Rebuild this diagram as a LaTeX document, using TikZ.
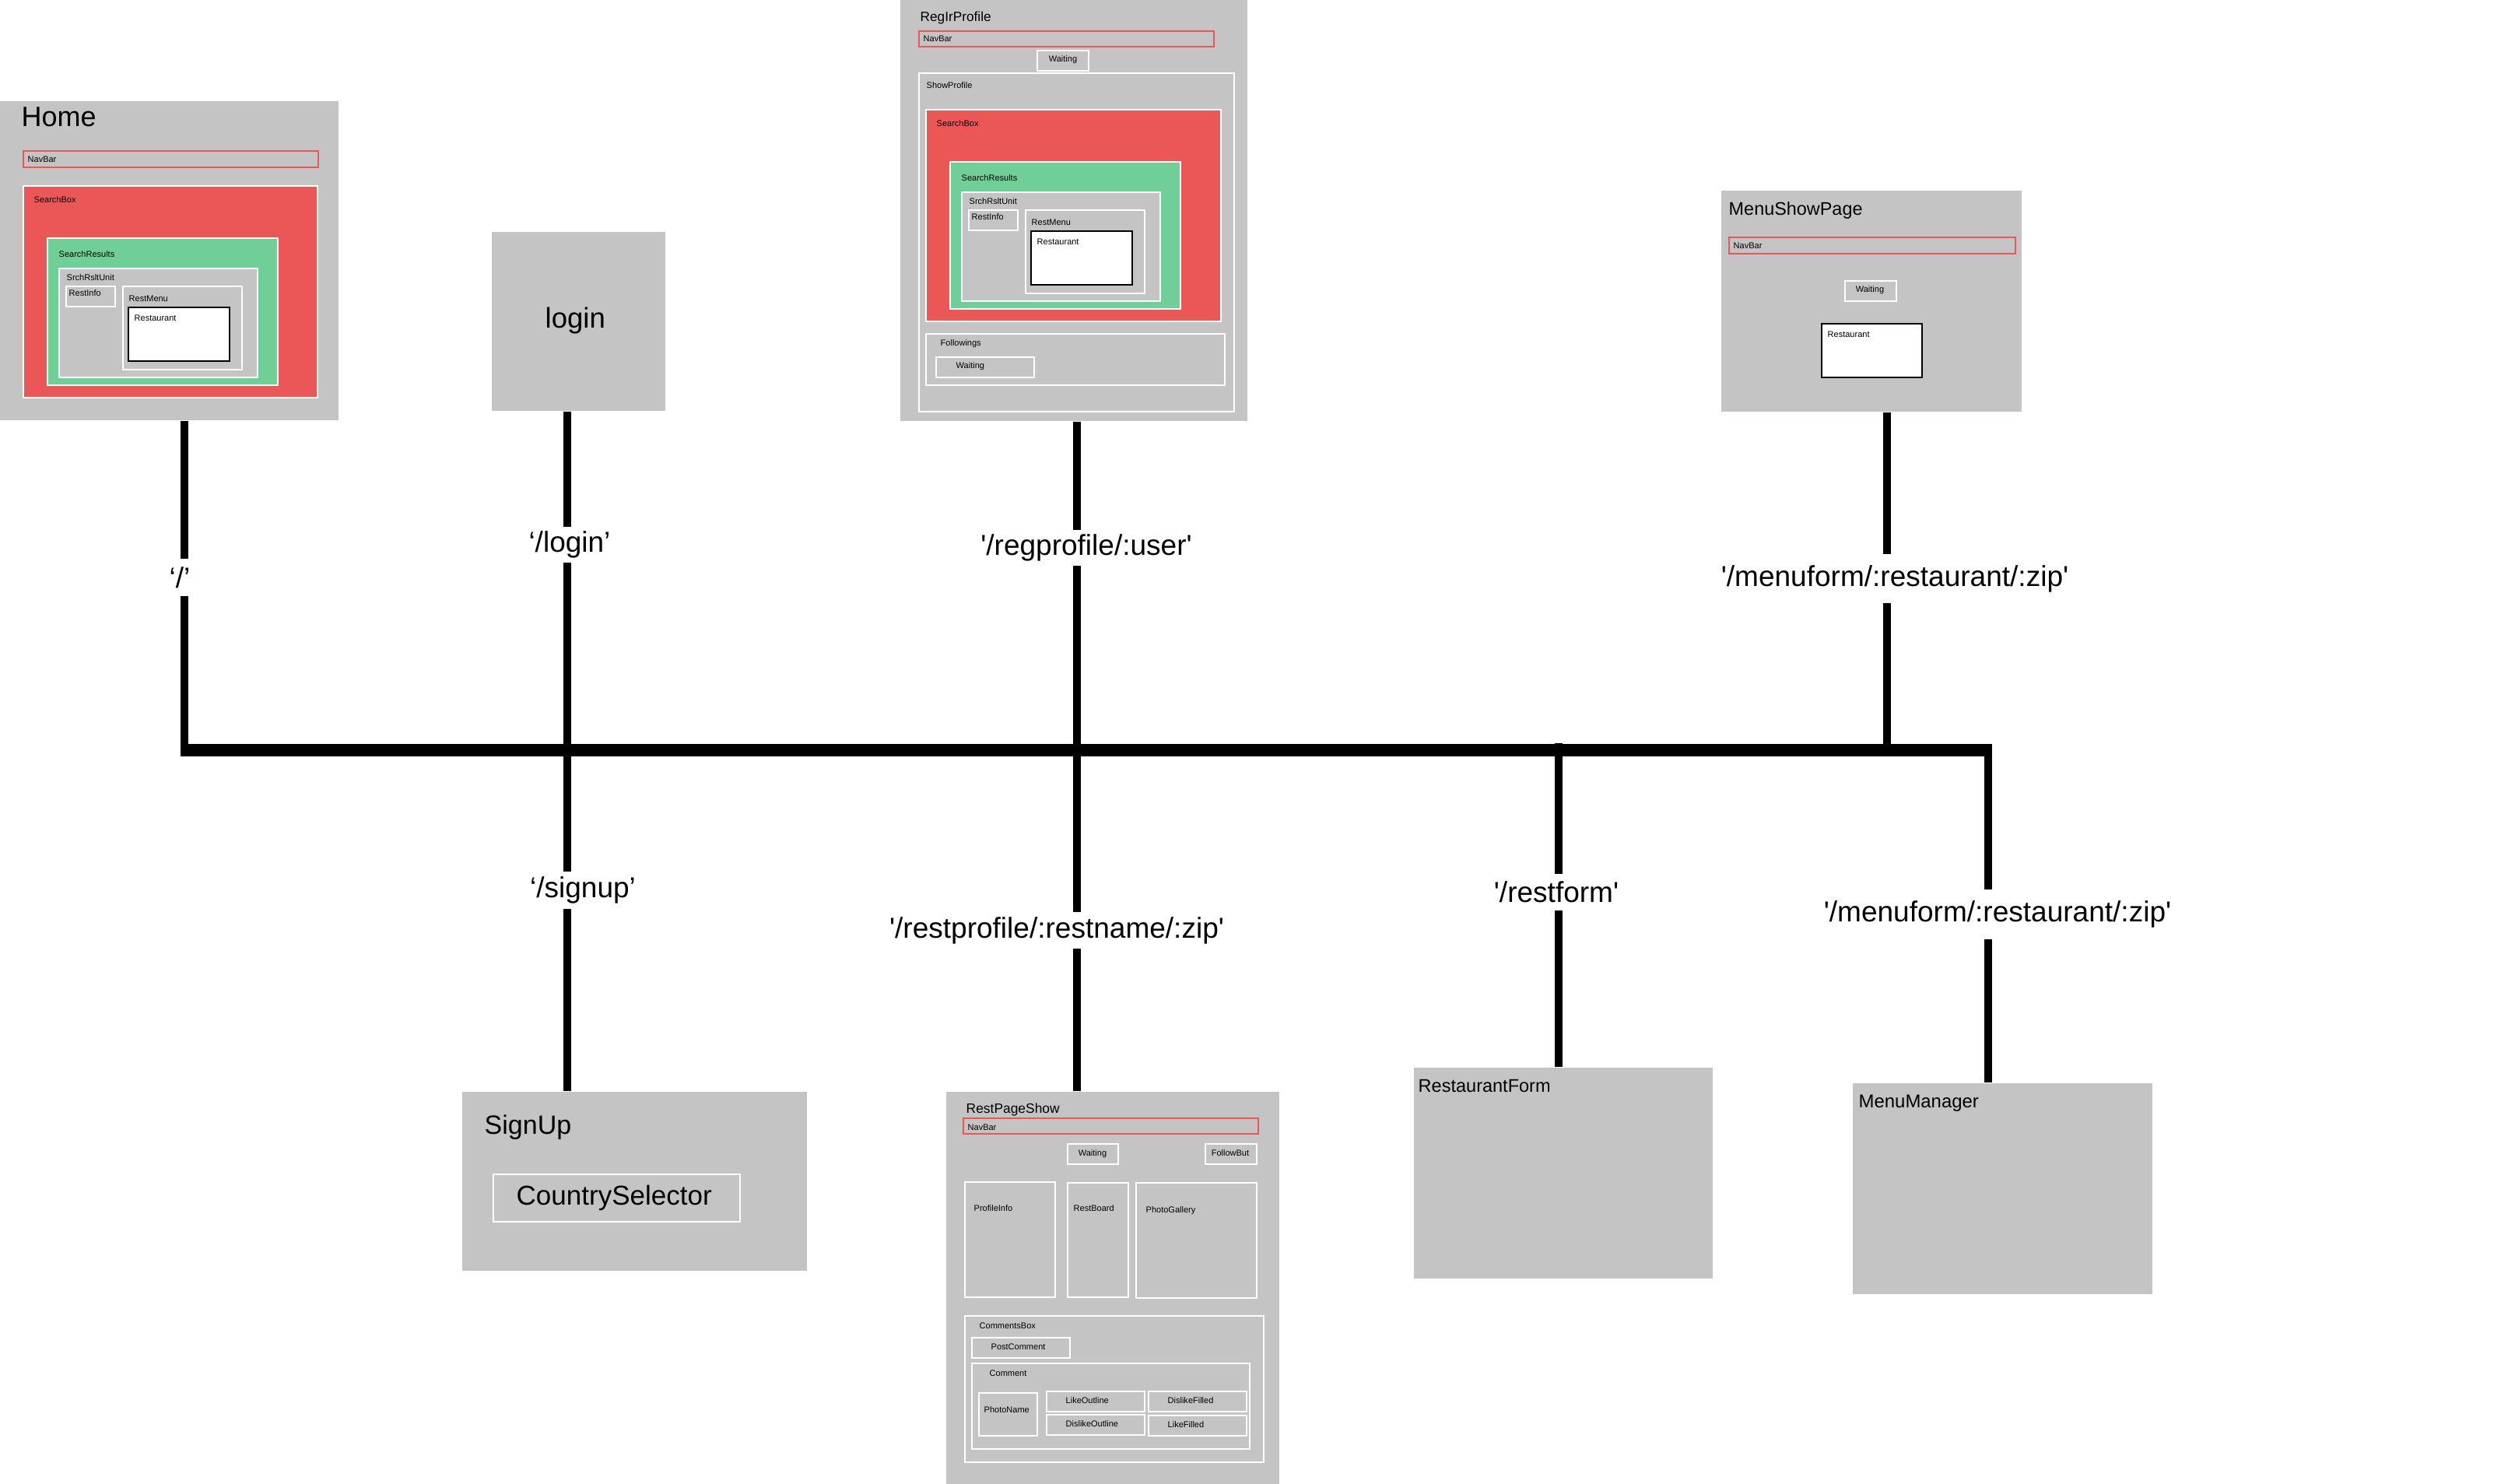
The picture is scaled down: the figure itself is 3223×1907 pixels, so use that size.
\documentclass[tikz,border=0pt]{standalone}
\usepackage{fontspec}
\setmainfont{Liberation Sans}[Ligatures=TeXOff]
\usetikzlibrary{fit}
\definecolor{pgrey}{HTML}{C4C4C4}
\definecolor{pred}{HTML}{EB5757}
\definecolor{pgreen}{HTML}{6FCF97}
\tikzset{
  pagebox/.style={fill=pgrey, draw=none, inner sep=0pt},
  wbox/.style={fill=pgrey, draw=white, line width=0.35pt, inner sep=0pt},
  navbox/.style={draw=pred, line width=0.35pt, inner sep=0pt},
  redbox/.style={fill=pred, draw=white, line width=0.35pt, inner sep=0pt},
  greenbox/.style={fill=pgreen, draw=white, line width=0.35pt, inner sep=0pt},
  restbox/.style={fill=white, draw=black, line width=0.4pt, inner sep=0pt},
  small/.style={font=\fontsize{3.13pt}{3.8pt}\selectfont, inner sep=0pt, anchor=base west},
  smallc/.style={small, anchor=base},
  title/.style={inner sep=0pt, anchor=base west},
  conn/.style={line width=0.1cm},
  busline/.style={line width=0.16cm},
  route/.style={font=\fontsize{10.53pt}{12pt}\selectfont, fill=white, inner sep=0pt, minimum height=0.46cm},
}
\newcommand\bx[4]{\node[#1, fit={#2 #3}] (#4) {};}
\begin{document}
\begin{tikzpicture}[x=0.01cm, y=-0.01cm]
\useasboundingbox (0,0) rectangle (3223,1907);

% ---------- Home ----------
\bx{pagebox}{(0,130)}{(435,540)}{home}
\node[title, font=\fontsize{10.24pt}{12pt}\selectfont] (homeT) at (27,163) {Home};
\bx{navbox}{(30,194)}{(409,215)}{hNav}
\node[small] (hNavT) at (35,209) {NavBar};
\bx{redbox}{(30,239)}{(408,511)}{hSB}
\node[small] (hSBT) at (43,261) {SearchBox};
\bx{greenbox}{(61,306)}{(357,495)}{hSR}
\node[small] (hSRT) at (75,331) {SearchResults};
\bx{wbox}{(76,345)}{(331,485)}{hSU}
\node[small] (hSUT) at (85,361) {SrchRsltUnit};
\bx{wbox}{(85,368)}{(148,394)}{hRI}
\node[small] (hRIT) at (88,381) {RestInfo};
\bx{wbox}{(158,368)}{(311,475)}{hRM}
\node[small] (hRMT) at (165,388) {RestMenu};
\bx{restbox}{(165,395)}{(295,464)}{hR}
\node[small] (hRT) at (172,413) {Restaurant};

% ---------- login ----------
\bx{pagebox}{(632,298)}{(855,528)}{login}
\node[title, font=\fontsize{10.4pt}{12pt}\selectfont] (loginT) at (700,422) {login};

% ---------- RegIrProfile ----------
\bx{pagebox}{(1157,0)}{(1603,541)}{regp}
\node[title, font=\fontsize{4.9pt}{6pt}\selectfont] (regpT) at (1182,28) {RegIrProfile};
\bx{navbox}{(1181,40)}{(1560,60)}{rNav}
\node[small] (rNavT) at (1186,54) {NavBar};
\bx{wbox}{(1333,65)}{(1399,91)}{rW}
\node[smallc] (rWT) at (1366,80) {Waiting};
\bx{wbox}{(1181,94)}{(1586,529)}{rSP}
\node[small] (rSPT) at (1190,114) {ShowProfile};
\bx{redbox}{(1190,141)}{(1569,413)}{rSB}
\node[small] (rSBT) at (1203,163) {SearchBox};
\bx{greenbox}{(1221,208)}{(1517,397)}{rSR}
\node[small] (rSRT) at (1235,233) {SearchResults};
\bx{wbox}{(1236,247)}{(1491,387)}{rSU}
\node[small] (rSUT) at (1245,263) {SrchRsltUnit};
\bx{wbox}{(1245,270)}{(1308,296)}{rRI}
\node[small] (rRIT) at (1248,283) {RestInfo};
\bx{wbox}{(1318,270)}{(1471,377)}{rRM}
\node[small] (rRMT) at (1325,290) {RestMenu};
\bx{restbox}{(1325,297)}{(1455,366)}{rR}
\node[small] (rRT) at (1332,315) {Restaurant};
\bx{wbox}{(1190,429)}{(1574,495)}{rF}
\node[small] (rFT) at (1208,445) {Followings};
\bx{wbox}{(1203,459)}{(1329,485)}{rFW}
\node[small] (rFWT) at (1228,474) {Waiting};

% ---------- MenuShowPage ----------
\bx{pagebox}{(2212,245)}{(2598,529)}{menushow}
\node[title, font=\fontsize{6.66pt}{8pt}\selectfont] (menushowT) at (2221,277) {MenuShowPage};
\bx{navbox}{(2222,305)}{(2590,326)}{mNav}
\node[small] (mNavT) at (2227,320) {NavBar};
\bx{wbox}{(2371,361)}{(2437,387)}{mW}
\node[smallc] (mWT) at (2403,376) {Waiting};
\bx{restbox}{(2341,416)}{(2470,485)}{mR}
\node[small] (mRT) at (2348,434) {Restaurant};

% ---------- SignUp ----------
\bx{pagebox}{(594,1403)}{(1037,1633)}{signup}
\node[title, font=\fontsize{9.67pt}{11pt}\selectfont] (signupT) at (622,1457) {SignUp};
\bx{wbox}{(634,1509)}{(951,1570)}{cs}
\node[title, font=\fontsize{9.96pt}{11pt}\selectfont] (csT) at (663,1548) {CountrySelector};

% ---------- RestPageShow ----------
\bx{pagebox}{(1216,1403)}{(1644,1907)}{restpage}
\node[title, font=\fontsize{4.95pt}{6pt}\selectfont] (restpageT) at (1241,1430) {RestPageShow};
\bx{navbox}{(1238,1437)}{(1617,1457)}{pNav}
\node[small] (pNavT) at (1243,1452) {NavBar};
\bx{wbox}{(1372,1470)}{(1437,1496)}{pW}
\node[smallc] (pWT) at (1404,1485) {Waiting};
\bx{wbox}{(1549,1470)}{(1615,1496)}{pFB}
\node[smallc] (pFBT) at (1581,1485) {FollowBut};
\bx{wbox}{(1240,1519)}{(1356,1667)}{pPI}
\node[small] (pPIT) at (1251,1557) {ProfileInfo};
\bx{wbox}{(1372,1520)}{(1450,1667)}{pRB}
\node[small] (pRBT) at (1379,1557) {RestBoard};
\bx{wbox}{(1460,1520)}{(1615,1668)}{pPG}
\node[small] (pPGT) at (1472,1558) {PhotoGallery};
\bx{wbox}{(1240,1691)}{(1624,1879)}{pCB}
\node[small] (pCBT) at (1258,1707) {CommentsBox};
\bx{wbox}{(1249,1719)}{(1375,1745)}{pPC}
\node[small] (pPCT) at (1273,1734) {PostComment};
\bx{wbox}{(1249,1752)}{(1606,1862)}{pC}
\node[small] (pCT) at (1271,1768) {Comment};
\bx{wbox}{(1258,1790)}{(1333,1845)}{pPN}
\node[small] (pPNT) at (1264,1815) {PhotoName};
\bx{wbox}{(1345,1788)}{(1471,1814)}{pLO}
\node[small] (pLOT) at (1369,1803) {LikeOutline};
\bx{wbox}{(1345,1818)}{(1471,1844)}{pDO}
\node[small] (pDOT) at (1369,1833) {DislikeOutline};
\bx{wbox}{(1476,1788)}{(1602,1814)}{pDF}
\node[small] (pDFT) at (1500,1803) {DislikeFilled};
\bx{wbox}{(1476,1819)}{(1602,1845)}{pLF}
\node[small] (pLFT) at (1500,1834) {LikeFilled};

% ---------- RestaurantForm ----------
\bx{pagebox}{(1817,1372)}{(2201,1643)}{restform}
\node[title, font=\fontsize{6.69pt}{8pt}\selectfont] (restformT) at (1822,1403) {RestaurantForm};

% ---------- MenuManager ----------
\bx{pagebox}{(2381,1392)}{(2766,1663)}{menuman}
\node[title, font=\fontsize{6.8pt}{8pt}\selectfont] (menumanT) at (2388,1423) {MenuManager};

% ---------- connectors ----------
\coordinate (busL) at (232,964);
\coordinate (busR) at (2560,964);
\coordinate (jH) at (237,972);
\coordinate (jL) at (728.5,964);
\coordinate (jR) at (1384,964);
\coordinate (jF) at (2003,955);
\coordinate (jM) at (2425,964);
\coordinate (jMM) at (2555,956);

\draw[busline] (busL) -- (busR);
\draw[conn] (home.south -| jH) -- (jH);
\draw[conn] (login.south -| jL) -- (signup.north -| jL);
\draw[conn] (regp.south -| jR) -- (restpage.north -| jR);
\draw[conn] (jF) -- (restform.north -| jF);
\draw[conn] (menushow.south -| jM) -- (jM);
\draw[conn] (jMM) -- (menuman.north -| jMM);

% ---------- route labels ----------
\node[route, minimum height=0.47cm] (lRoot) at (231,742) {‘/’};
\node[route] (lLogin) at (732,700) {‘/login’};
\node[route] (lReg) at (1396,704) {'/regprofile/:user'};
\node[route, minimum height=0.63cm] (lMenuT) at (2435,743.5) {'/menuform/:restaurant/:zip'};
\node[route, minimum height=0.48cm] (lSignup) at (749,1144) {‘/signup’};
\node[route, minimum height=0.47cm] (lRestP) at (1358,1195.5) {'/restprofile/:restname/:zip'};
\node[route, minimum height=0.47cm] (lRestF) at (2000,1146.5) {'/restform'};
\node[route, minimum height=0.64cm] (lMenuB) at (2567,1175) {'/menuform/:restaurant/:zip'};
\end{tikzpicture}
\end{document}
